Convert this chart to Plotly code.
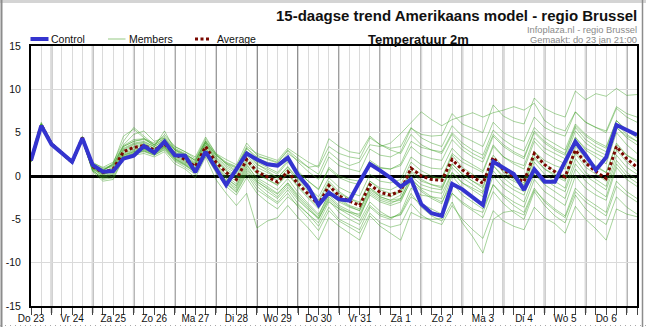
import pandas as pd
import plotly.graph_objects as go

# ---------------- data ----------------
start_time = "2020-01-23 12:00"
n_steps = 60
times = pd.date_range(start_time, periods=n_steps, freq="6h")

day_labels = ["Do 23", "Vr 24", "Za 25", "Zo 26", "Ma 27", "Di 28", "Wo 29", "Do 30",
              "Vr 31", "Za 1", "Zo 2", "Ma 3", "Di 4", "Wo 5", "Do 6"]

y_tick_values = [-15, -10, -5, 0, 5, 10, 15]
y_tick_labels = ["-15", "-10", "-5", "0", "5", "10", "15"]

control = [1.8, 5.8, 3.65, 2.7, 1.65, 4.35, 1.27, 0.5, 0.58, 2.0,
           2.35, 3.46, 2.7, 3.96, 2.4, 2.35, 0.45, 2.8, 0.9, -1.05,
           0.8, 2.6, 1.9, 1.35, 1.2, 2.1, 0.1, -1.3, -3.35, -1.92,
           -2.7, -2.85, -0.65, 1.38, 0.62, -0.2, -1.23, -0.38, -3.25, -4.3,
           -4.6, -0.92, -1.54, -2.46, -3.35, 1.65, 1.0, 0.23, -1.6, 0.77,
           -0.65, -0.65, 1.65, 3.96, 2.4, 0.69, 2.15, 5.88, 5.3, 4.73]

average = [1.8, 5.9, 3.7, 2.6, 1.6, 4.4, 1.1, 0.4, 0.8, 2.8,
           3.3, 3.5, 3.0, 3.7, 2.5, 1.9, 1.1, 3.4, 1.6, 0.4,
           -0.4, 1.9, 0.5, -0.1, -0.7, 0.5, -0.9, -2.1, -3.3, -1.1,
           -2.3, -2.9, -3.4, -1.0, -1.9, -2.2, -1.7, 0.9, 0.0, -0.4,
           -0.5, 1.9, 0.7, -0.1, -0.85, 2.15, 0.7, -0.1, -0.65, 2.6,
           1.3, 0.5, -0.1, 3.0, 1.5, 0.5, -0.3, 3.4, 2.0, 1.0]

member_01 = [2.0, 6.2, 3.9, 2.8, 1.8, 4.6, 1.6, 0.9, 1.3, 3.5,
             4.2, 4.3, 3.8, 4.6, 3.4, 2.8, 2.0, 4.3, 2.6, 1.9,
             1.3, 3.8, 2.4, 1.9, 1.5, 2.9, 1.6, 0.5, -0.4, 2.2,
             1.2, 0.8, 0.5, 3.1, 2.4, 2.2, 2.8, 5.5, 4.8, 4.6,
             4.7, 7.2, 6.0, 5.5, 5.0, 8.2, 6.9, 6.3, 6.0, 9.0,
             7.8, 7.2, 6.8, 9.8, 8.8, 9.5, 9.2, 10.1, 9.3, 9.4]
member_02 = [1.6, 5.6, 3.5, 2.4, 1.4, 4.1, 0.6, -0.2, 0.2, 2.2,
             2.6, 2.9, 2.4, 3.1, 1.8, 1.2, 0.4, 2.6, 0.6, -0.9,
             -1.9, 0.2, -1.6, -2.4, -3.2, -2.0, -3.6, -4.9, -6.3, -4.0,
             -5.2, -5.9, -6.6, -4.3, -5.4, -5.9, -5.6, -3.2, -4.5, -5.2,
             -5.6, -3.4, -5.0, -6.2, -7.2, -4.0, -5.2, -5.8, -6.2, -3.6,
             -4.8, -5.5, -6.6, -3.5, -5.0, -6.1, -7.4, -3.8, -4.4, -4.7]
member_03 = [1.7, 5.8, 3.6, 2.6, 1.6, 4.3, 1.0, 0.2, 0.5, 2.5,
             3.0, 3.2, 2.8, 3.4, 2.2, 1.6, 0.8, 3.0, 1.2, -0.2,
             -1.2, 1.0, -0.6, -1.5, -2.4, -1.0, -2.6, -3.8, -5.0, -2.6,
             -3.8, -4.5, -5.2, -3.0, -4.1, -4.8, -4.4, -2.0, -3.6, -4.6,
             -5.2, -3.0, -5.4, -7.0, -8.9, -5.0, -4.2, -4.0, -4.5, -1.6,
             -2.8, -3.8, -4.6, -1.4, -2.6, -3.4, -4.2, -0.6, -1.8, -2.6]
member_04 = [1.8, 5.7, 3.6, 2.5, 1.5, 4.2, 0.7, -0.4, -0.2, 2.0,
             2.4, 2.6, 2.2, 2.8, 1.4, 0.8, -0.2, 2.2, -0.4, -2.0,
             -3.4, -2.0, -6.0, -5.2, -4.8, -3.4, -4.8, -6.0, -7.4, -4.8,
             -5.8, -6.6, -7.4, -4.6, -5.8, -6.6, -7.4, -4.2, -4.8, -5.0,
             -4.9, -2.0, -3.0, -3.8, -4.2, -1.0, -2.2, -3.0, -3.6, -0.4,
             -1.8, -2.6, -3.4, 0.0, -1.4, -2.2, -2.8, 1.0, -0.4, -1.2]
member_05 = [1.9, 6.0, 3.8, 2.7, 1.7, 4.5, 1.4, 0.8, 1.1, 3.2,
             3.8, 4.0, 3.4, 4.2, 3.0, 2.4, 1.6, 3.9, 2.2, 1.2,
             0.5, 2.9, 1.6, 1.0, 0.4, 1.8, 0.6, -0.6, -1.5, 0.8,
             -0.2, -0.7, -1.0, 1.6, 0.9, 0.8, 1.4, 4.0, 3.3, 3.0,
             2.8, 5.0, 3.8, 3.0, 2.4, 5.3, 4.2, 3.4, 2.9, 5.6,
             4.4, 3.7, 3.0, 6.0, 4.8, 4.0, 3.4, 6.4, 5.3, 4.6]
member_06 = [1.8, 5.9, 3.7, 2.6, 1.7, 4.4, 1.3, 0.6, 1.5, 3.6,
             4.8, 5.2, 4.0, 4.4, 3.2, 2.6, 1.8, 4.0, 2.4, 1.5,
             1.0, 3.2, 2.2, 2.0, 1.6, 3.0, 2.0, 1.0, 0.2, 2.8,
             1.8, 1.2, 1.6, 3.6, 3.4, 3.8, 4.9, 6.2, 7.4, 6.5,
             5.8, 6.5, 6.9, 7.3, 6.8, 7.3, 7.6, 8.0, 7.6, 8.4,
             6.4, 5.6, 5.2, 7.4, 6.2, 5.6, 5.0, 7.8, 6.8, 6.2]
member_07 = [1.7, 5.8, 3.6, 2.5, 1.5, 4.3, 0.9, 0.0, 0.4, 2.4,
             2.9, 3.1, 2.7, 3.4, 2.1, 1.5, 0.7, 3.0, 1.1, -0.3,
             -1.1, 1.2, -0.2, -0.9, -1.6, -0.3, -1.9, -3.2, -4.4, -2.2,
             -3.4, -4.0, -4.6, -2.2, -3.0, -3.4, -3.0, -0.4, -1.4, -1.8,
             -2.0, 0.4, -0.8, -1.6, -2.4, 0.6, -0.8, -1.6, -2.2, 1.0,
             -0.4, -1.2, -1.8, 1.4, 0.0, -0.8, -1.6, 1.8, 0.4, -0.4]
member_08 = [1.8, 6.0, 3.8, 2.7, 1.7, 4.5, 1.2, 0.5, 0.9, 3.0,
             3.6, 3.8, 3.2, 3.9, 2.7, 2.1, 1.3, 3.6, 1.9, 0.8,
             0.0, 2.4, 1.0, 0.4, -0.2, 1.1, -0.3, -1.4, -2.4, -0.2,
             -1.3, -1.9, -2.3, 0.2, -0.6, -0.8, -0.4, 2.2, 1.3, 0.9,
             0.8, 3.2, 2.0, 1.3, 0.6, 3.6, 2.2, 1.4, 0.8, 4.0,
             2.7, 2.0, 1.4, 4.5, 3.0, 2.2, 1.4, 5.0, 3.6, 2.6]
member_09 = [1.6, 5.7, 3.5, 2.5, 1.5, 4.2, 0.8, 0.1, 0.6, 2.6,
             3.1, 3.3, 2.8, 3.5, 2.3, 1.7, 0.9, 3.2, 1.3, 0.0,
             -0.9, 1.4, -0.4, -1.2, -2.0, -0.8, -2.4, -3.6, -4.9, -2.8,
             -4.2, -5.0, -5.6, -3.4, -4.4, -4.8, -4.5, -2.4, -3.2, -3.8,
             -4.4, -2.0, -3.2, -4.0, -4.8, -1.8, -3.2, -4.2, -5.0, -1.8,
             -3.4, -4.6, -5.4, -2.2, -3.8, -4.8, -5.6, -2.4, -3.6, -4.4]
member_10 = [1.9, 6.1, 3.8, 2.7, 1.7, 4.5, 1.5, 1.0, 1.6, 4.0,
             5.6, 4.6, 3.6, 4.8, 3.4, 2.8, 2.2, 4.5, 2.6, 1.4,
             0.6, 2.8, 1.4, 0.6, -0.2, 1.0, -0.4, -1.6, -2.8, -0.6,
             -1.8, -2.6, -3.2, -0.6, -1.4, -1.6, -1.0, 1.6, 0.6, 0.0,
             -0.4, 2.4, 1.0, 0.2, -0.6, 2.4, 1.0, 0.2, -0.4, 2.8,
             1.4, 0.6, 0.0, 3.4, 2.0, 1.2, 0.4, 3.8, 2.4, 1.6]
member_11 = [1.7, 5.8, 3.6, 2.6, 1.6, 4.3, 0.9, 0.2, 0.6, 2.3,
             2.8, 3.0, 2.6, 3.3, 2.0, 1.4, 0.6, 2.8, 1.0, -0.6,
             -1.6, 0.6, -0.9, -1.8, -2.6, -1.3, -2.8, -3.9, -4.8, -2.4,
             -3.6, -4.2, -4.8, -2.0, -2.8, -3.2, -2.6, 0.0, -1.0, -1.4,
             -1.6, 1.4, 0.2, -0.6, -1.4, 1.8, 0.6, -0.2, -0.8, 2.8,
             1.8, 1.2, 0.8, 4.4, 3.2, 2.6, 2.0, 5.6, 4.6, 4.0]
member_12 = [1.8, 5.9, 3.7, 2.6, 1.6, 4.4, 1.0, 0.3, 0.7, 2.9,
             3.4, 3.7, 3.2, 3.9, 2.6, 2.0, 1.2, 3.5, 1.7, 0.6,
             -0.2, 2.1, 0.7, 0.1, -0.5, 0.8, -0.6, -1.8, -3.0, -0.8,
             -2.0, -2.6, -3.0, -0.6, -1.6, -2.0, -1.8, 0.6, -0.4, -1.0,
             -1.4, 1.0, -0.2, -1.0, -1.8, 1.2, -0.2, -1.2, -1.8, 1.6,
             0.2, -0.6, -1.4, 2.0, 0.4, -0.4, -1.2, 2.4, 1.0, 0.2]
member_13 = [1.9, 6.0, 3.8, 2.7, 1.7, 4.4, 1.2, 0.7, 1.2, 3.4,
             4.0, 4.3, 3.6, 4.4, 3.1, 2.5, 1.8, 4.1, 2.5, 1.6,
             1.1, 3.4, 2.6, 2.2, 1.8, 3.2, 2.4, 1.6, 1.0, 3.4,
             2.6, 2.2, 2.0, 4.4, 3.6, 3.2, 3.4, 5.6, 4.4, 3.8,
             3.4, 5.8, 4.6, 4.0, 3.4, 6.2, 5.0, 4.4, 4.0, 6.8,
             5.6, 5.0, 4.6, 7.4, 6.2, 5.6, 5.2, 8.0, 7.2, 6.8]
member_14 = [1.7, 5.8, 3.6, 2.6, 1.5, 4.3, 0.8, -0.1, 0.3, 2.4,
             2.8, 3.1, 2.6, 3.3, 2.0, 1.3, 0.5, 2.7, 0.9, -0.5,
             -1.4, 0.8, -0.7, -1.4, -2.1, -0.8, -2.2, -3.4, -4.6, -2.0,
             -3.0, -3.6, -4.0, -1.4, -2.4, -2.8, -2.6, -0.2, -1.6, -2.4,
             -3.0, -0.8, -2.2, -3.0, -3.8, -1.0, -2.4, -3.4, -4.2, -1.4,
             -3.0, -4.0, -4.8, -1.8, -3.0, -3.8, -4.6, -1.2, -2.2, -3.0]
member_15 = [1.8, 5.9, 3.7, 2.7, 1.7, 4.5, 1.3, 0.6, 1.4, 4.6,
             5.4, 4.4, 3.4, 5.2, 3.0, 2.2, 1.4, 3.8, 1.9, 0.6,
             -0.4, 1.8, 0.4, -0.4, -1.0, 0.4, -1.2, -2.4, -3.6, -1.2,
             -2.6, -3.4, -3.8, -1.4, -2.2, -2.4, -1.8, 1.0, 0.2, -0.2,
             -0.2, 2.6, 1.6, 1.0, 0.4, 3.4, 2.2, 1.6, 1.2, 4.4,
             3.2, 2.6, 2.0, 5.2, 3.8, 3.0, 2.4, 5.6, 4.4, 3.6]
member_16 = [1.7, 5.7, 3.6, 2.5, 1.4, 4.2, 0.5, -0.6, -0.4, 2.0,
             2.6, 2.8, 2.4, 3.0, 1.7, 1.0, 0.2, 2.4, 0.4, -1.2,
             -2.2, -0.2, -2.0, -3.0, -3.8, -2.4, -3.4, -4.4, -5.4, -3.0,
             -3.8, -4.2, -4.4, -1.8, -2.6, -3.0, -2.8, -0.6, -1.8, -2.6,
             -3.2, 0.0, -1.4, -2.4, -3.2, 0.0, -1.4, -2.2, -3.0, 0.2,
             -1.0, -1.8, -2.6, 0.8, -0.6, -1.6, -2.4, 1.4, 0.0, -0.8]
member_17 = [1.8, 5.9, 3.7, 2.6, 1.6, 4.4, 1.1, 0.4, 1.0, 3.1,
             3.7, 3.9, 3.4, 4.1, 2.8, 2.2, 1.5, 3.8, 2.1, 1.0,
             0.3, 2.6, 1.3, 0.8, 0.2, 1.6, 0.4, -0.6, -1.6, 1.0,
             0.0, -0.4, -0.6, 1.8, 1.0, 0.8, 1.2, 3.4, 2.4, 2.0,
             1.8, 4.2, 3.0, 2.2, 1.6, 4.6, 3.4, 2.6, 2.0, 5.0,
             3.8, 3.0, 2.4, 5.6, 4.2, 3.4, 2.8, 6.0, 4.8, 4.0]
member_18 = [1.8, 5.8, 3.7, 2.6, 1.6, 4.4, 1.0, 0.3, 0.8, 2.7,
             3.3, 3.5, 3.0, 3.7, 2.4, 1.8, 1.0, 3.3, 1.4, 0.2,
             -0.6, 1.6, 0.2, -0.4, -1.1, 0.2, -1.3, -2.6, -3.8, -1.6,
             -2.8, -3.5, -4.0, -1.6, -2.4, -2.8, -2.2, 0.4, -0.6, -1.0,
             -1.2, 1.4, 0.2, -0.6, -1.2, 1.8, 0.4, -0.4, -1.0, 2.2,
             0.8, 0.0, -0.6, 2.6, 1.0, 0.2, -0.6, 3.0, 1.6, 0.6]
member_19 = [1.7, 5.7, 3.5, 2.5, 1.5, 4.2, 0.6, -0.3, 0.0, 2.2,
             2.7, 2.9, 2.5, 3.2, 1.9, 1.3, 0.4, 2.6, 0.8, -0.8,
             -1.8, 0.4, -1.2, -2.2, -3.0, -1.6, -3.2, -4.4, -5.8, -3.6,
             -5.0, -5.6, -6.2, -3.6, -4.6, -5.0, -4.2, -1.4, -2.2, -2.4,
             -2.6, 0.4, -0.8, -1.4, -2.0, 1.2, 0.0, -0.6, -1.2, 2.0,
             0.8, 0.2, -0.4, 2.8, 1.6, 1.0, 0.4, 3.6, 2.4, 1.8]
member_20 = [1.9, 6.0, 3.8, 2.7, 1.7, 4.5, 1.3, 0.7, 1.3, 3.4,
             4.0, 4.2, 3.6, 4.3, 3.0, 2.5, 1.8, 4.0, 2.4, 1.4,
             0.9, 3.2, 2.0, 1.6, 1.2, 2.6, 1.8, 1.0, 1.2, 4.3,
             3.4, 2.8, 2.6, 4.6, 3.6, 3.0, 2.6, 4.8, 3.6, 3.0,
             2.6, 4.8, 3.4, 2.6, 2.0, 4.8, 3.6, 2.8, 2.2, 5.2,
             4.0, 3.2, 2.6, 5.8, 4.6, 3.8, 3.2, 6.4, 5.2, 4.4]

members = [member_01, member_02, member_03, member_04, member_05, member_06,
           member_07, member_08, member_09, member_10, member_11, member_12,
           member_13, member_14, member_15, member_16, member_17, member_18,
           member_19, member_20]

# ---------------- styling ----------------
W, H = 646, 327
ML, MR, MT, MB = 31, 9, 46, 21
PW, PH = W - ML - MR, H - MT - MB
FONT = "Liberation Sans, Arial, sans-serif"
BLUE = "#3434cf"
MAROON = "#7a0800"
GREEN = "rgba(60,160,35,0.45)"
GRID = "#dadada"
DAYLINE = "#626262"


def px(x):
    return (x - ML) / PW


def py(y):
    return (H - MB - y) / PH


fig = go.Figure()

for m in members:
    fig.add_trace(go.Scatter(x=times, y=m, mode="lines",
                             line=dict(color=GREEN, width=1),
                             showlegend=False, hoverinfo="skip"))

fig.add_trace(go.Scatter(x=times, y=average, mode="lines",
                         line=dict(color=MAROON, width=3, dash="3px,2.5px"),
                         showlegend=False))
fig.add_trace(go.Scatter(x=times, y=control, mode="lines",
                         line=dict(color=BLUE, width=4),
                         showlegend=False))

label_times = list(times[0::4])
midnight_times = list(times[2::4])

shapes = []
for t in midnight_times:
    shapes.append(dict(type="line", xref="x", yref="paper", x0=t, x1=t,
                       y0=-7 / PH, y1=1, layer="between",
                       line=dict(color=DAYLINE, width=1.5)))

# outer frame of the picture
shapes.append(dict(type="rect", xref="paper", yref="paper",
                   x0=px(0), x1=px(W), y0=py(3), y1=py(0), layer="below",
                   fillcolor="#d4d4d4", line=dict(width=0)))
shapes.append(dict(type="line", xref="paper", yref="paper",
                   x0=px(1.5), x1=px(1.5), y0=py(H), y1=py(0),
                   line=dict(color="#8c8c8c", width=2)))
shapes.append(dict(type="line", xref="paper", yref="paper",
                   x0=px(642.5), x1=px(642.5), y0=py(H), y1=py(0),
                   line=dict(color="#8c8c8c", width=1.5)))
shapes.append(dict(type="line", xref="paper", yref="paper",
                   x0=px(0), x1=px(W), y0=py(325.5), y1=py(325.5),
                   line=dict(color="#a8a8a8", width=1, dash="1px,4px")))

# legend samples
shapes.append(dict(type="line", xref="paper", yref="paper",
                   x0=px(30.5), x1=px(48.5), y0=py(39), y1=py(39),
                   line=dict(color=BLUE, width=4)))
shapes.append(dict(type="line", xref="paper", yref="paper",
                   x0=px(108), x1=px(125.5), y0=py(39), y1=py(39),
                   line=dict(color="#a6d298", width=1.2)))
shapes.append(dict(type="line", xref="paper", yref="paper",
                   x0=px(195), x1=px(211), y0=py(39), y1=py(39),
                   line=dict(color=MAROON, width=3, dash="3px,2.5px")))

annotations = [
    dict(text="<b>15-daagse trend Amerikaans model - regio Brussel</b>",
         x=px(639), y=py(16), xanchor="right", yanchor="middle",
         font=dict(size=15, color="#111111", family=FONT)),
    dict(text="Infoplaza.nl - regio Brussel", x=px(639), y=py(30),
         xanchor="right", yanchor="middle",
         font=dict(size=9.3, color="#8a8a8a", family=FONT)),
    dict(text="Gemaakt: do 23 jan 21:00", x=px(639), y=py(40),
         xanchor="right", yanchor="middle",
         font=dict(size=9.3, color="#8a8a8a", family=FONT)),
    dict(text="<b>Temperatuur 2m</b>", x=px(418), y=py(39.5),
         xanchor="center", yanchor="middle",
         font=dict(size=13, color="#111111", family=FONT)),
    dict(text="Control", x=px(49), y=py(39), xanchor="left", yanchor="middle",
         font=dict(size=10.5, color="#111111", family=FONT)),
    dict(text="Members", x=px(126.5), y=py(39), xanchor="left", yanchor="middle",
         font=dict(size=10.5, color="#111111", family=FONT)),
    dict(text="Average", x=px(215), y=py(39), xanchor="left", yanchor="middle",
         font=dict(size=10.5, color="#111111", family=FONT)),
]
for a in annotations:
    a.update(xref="paper", yref="paper", showarrow=False)

fig.update_layout(
    template="none",
    width=W, height=H,
    margin=dict(l=ML, r=MR, t=MT, b=MB, pad=0, autoexpand=False),
    paper_bgcolor="white", plot_bgcolor="white",
    font=dict(family=FONT, size=10.5, color="#111111"),
    showlegend=False,
    shapes=shapes,
    annotations=annotations,
    xaxis=dict(
        automargin=False,
        range=[times[0], times[-1]],
        tickmode="array", tickvals=label_times, ticktext=day_labels,
        ticks="outside", ticklen=7, tickcolor="#444444", tickwidth=1,
        showgrid=True, gridcolor=GRID, gridwidth=1,
        minor=dict(tickmode="array", tickvals=list(times),
                   ticks="outside", ticklen=7, tickcolor="#444444",
                   showgrid=True, gridcolor=GRID, gridwidth=1),
        showline=True, linecolor="black", linewidth=1.5, mirror=True,
        zeroline=False,
        tickfont=dict(size=10, color="#111111", family=FONT),
        ticklabelstandoff=-5,
        fixedrange=True,
    ),
    yaxis=dict(
        automargin=False,
        range=[-15, 15],
        tickmode="array", tickvals=y_tick_values, ticktext=y_tick_labels,
        ticks="", showgrid=True, gridcolor=GRID, gridwidth=1,
        zeroline=True, zerolinecolor="black", zerolinewidth=2.5,
        showline=True, linecolor="black", linewidth=2, mirror=True,
        tickfont=dict(size=10.5, color="#111111", family=FONT),
        ticklabelstandoff=6,
        fixedrange=True,
    ),
)

fig.write_html("out.html")
